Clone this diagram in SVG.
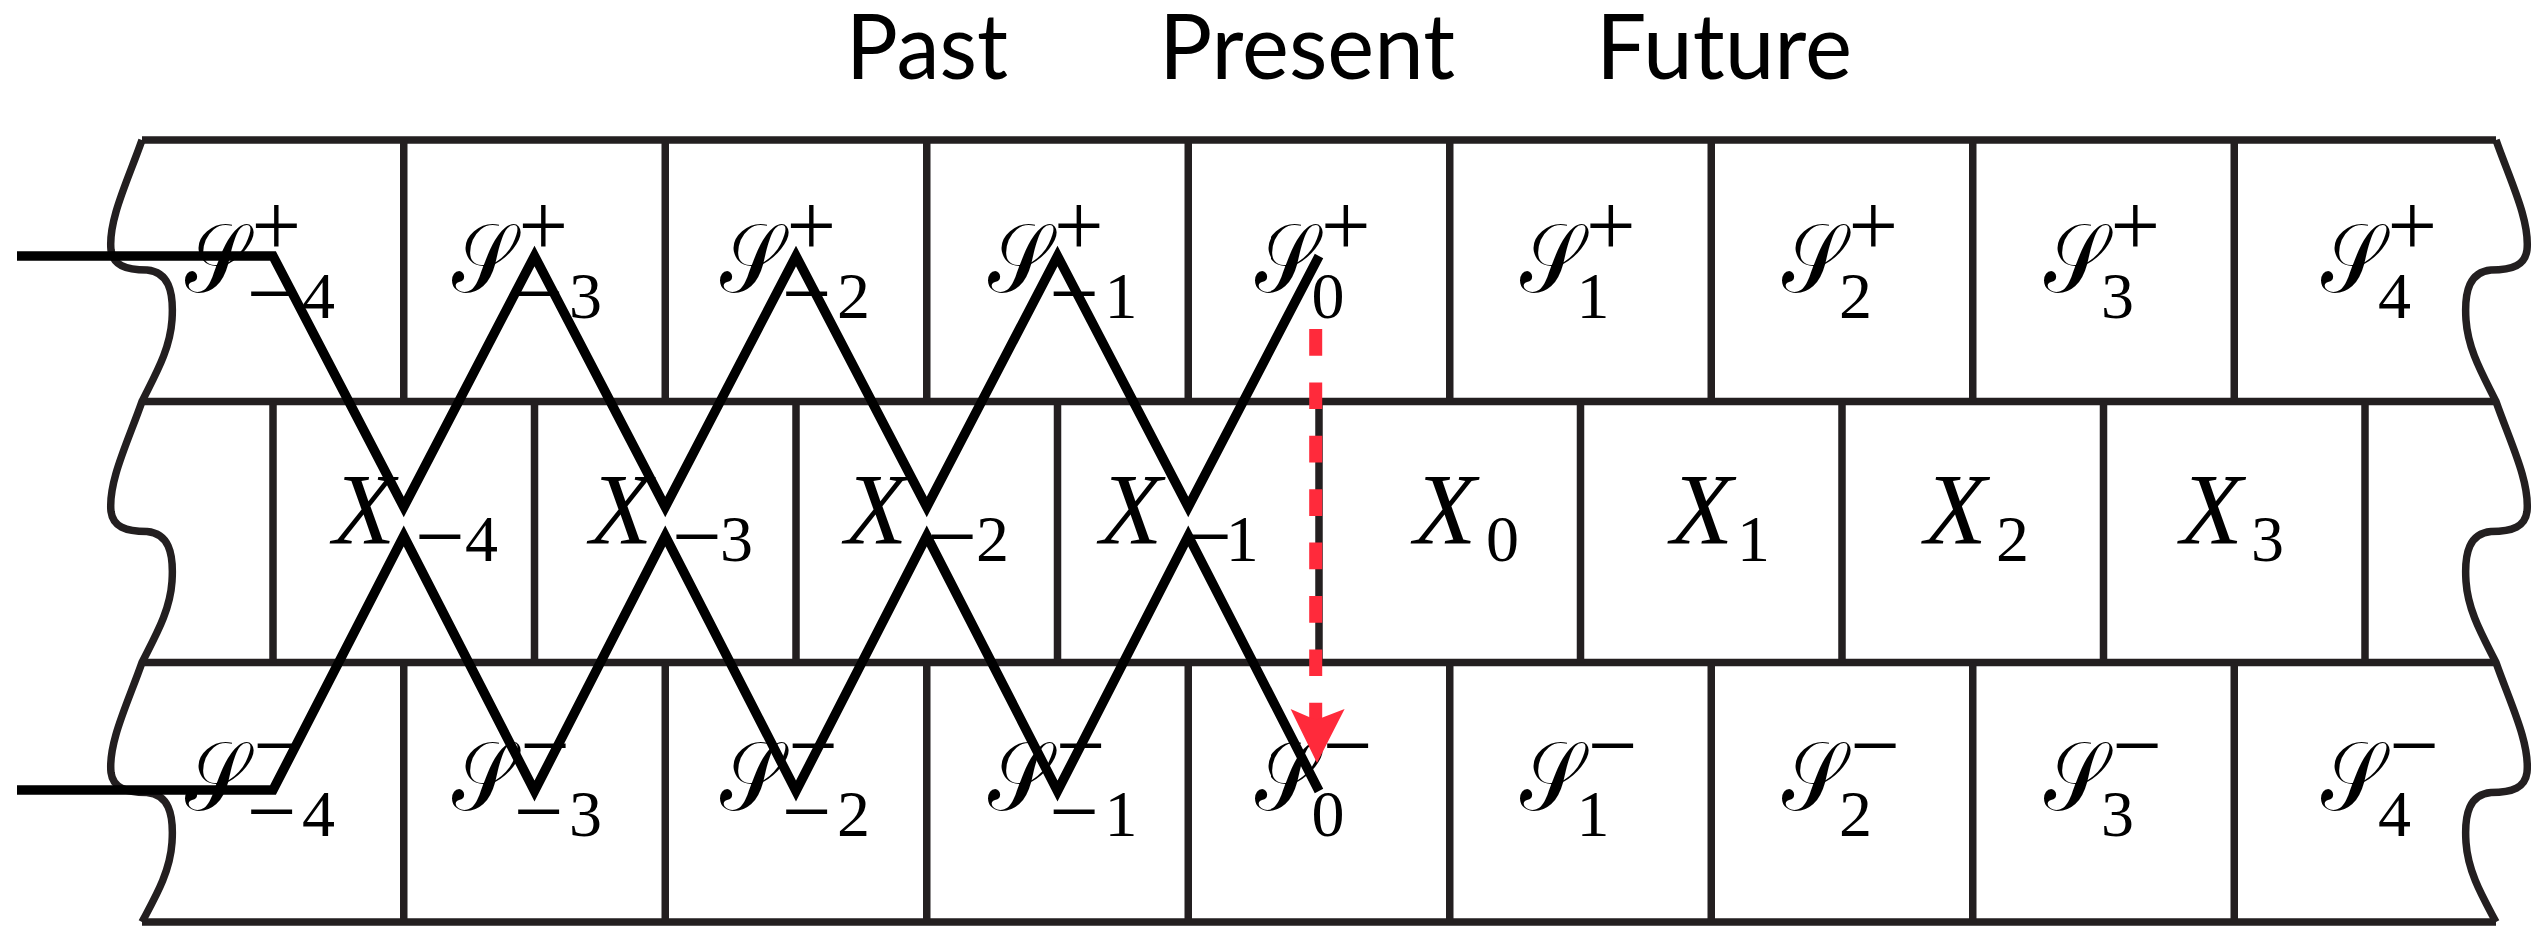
<svg xmlns="http://www.w3.org/2000/svg" width="2547" height="926" viewBox="0 0 2547 926">
<style>
.g{fill:none;stroke:#231f20;stroke-width:7.5}
.z{fill:none;stroke:#000;stroke-width:9.5;stroke-linejoin:miter;stroke-miterlimit:12}
.lab{font-family:"Liberation Serif","DejaVu Serif",serif;fill:#000}
.S{font-style:normal;font-size:98px}
.X{font-style:italic;font-size:102px}
.sg{font-style:normal;font-size:88px}
.d{font-style:normal;font-size:66px}
.t{font-family:Lato,"Open Sans",sans-serif;font-size:92px;fill:#000}
</style>
<rect width="2547" height="926" fill="#fff"/>
<g id="titles">
<text class="t" x="846" y="79" textLength="162" lengthAdjust="spacingAndGlyphs">Past</text>
<text class="t" x="1159" y="79" textLength="296" lengthAdjust="spacingAndGlyphs">Present</text>
<text class="t" x="1596" y="79" textLength="256" lengthAdjust="spacingAndGlyphs">Future</text>
</g>
<g id="grid">
<path class="g" d="M142,140H2496M142,401.5H2496M142,662.5H2496M142,922H2496"/>
<path class="g" d="M403.75,140V401.5M665.25,140V401.5M926.75,140V401.5M1188.25,140V401.5M1449.75,140V401.5M1711.25,140V401.5M1972.75,140V401.5M2234.25,140V401.5"/>
<path class="g" d="M273,401.5V662.5M534.5,401.5V662.5M796,401.5V662.5M1057.5,401.5V662.5M1319,401.5V662.5M1580.5,401.5V662.5M1842,401.5V662.5M2103.5,401.5V662.5M2365,401.5V662.5"/>
<path class="g" d="M403.75,662.5V922M665.25,662.5V922M926.75,662.5V922M1188.25,662.5V922M1449.75,662.5V922M1711.25,662.5V922M1972.75,662.5V922M2234.25,662.5V922"/>
<path class="g" d="M142,140C128,180 108,220 111,250C113,265 125,270 147,270C168,272 174,290 172,320C170,350 155,375 142,401.5C128,441.5 108,481.5 111,511.5C113,526.5 125,531.5 147,531.5C168,533.5 174,551.5 172,581.5C170,611.5 155,636.5 142,662.5C128,702.5 108,742.5 111,772.5C113,787.5 125,792.5 147,792.5C168,794.5 174,812.5 172,842.5C170,872.5 155,897.5 142,922"/>
<path class="g" d="M2496,140C2510,180 2530,220 2527,250C2525,265 2513,270 2491,270C2470,272 2464,290 2466,320C2468,350 2483,375 2496,401.5C2510,441.5 2530,481.5 2527,511.5C2525,526.5 2513,531.5 2491,531.5C2470,533.5 2464,551.5 2466,581.5C2468,611.5 2483,636.5 2496,662.5C2510,702.5 2530,742.5 2527,772.5C2525,787.5 2513,792.5 2491,792.5C2470,794.5 2464,812.5 2466,842.5C2468,872.5 2483,897.5 2496,922"/>
</g>
<g id="Sp-4" class="lab"><text><tspan class="S" x="185" y="292" textLength="62" lengthAdjust="spacingAndGlyphs">𝒮</tspan><tspan class="sg" x="251.4" y="255.3">+</tspan><tspan class="sg" x="246.9" y="322.8">−</tspan><tspan class="d" x="302" y="318">4</tspan></text></g>
<g id="Sp-3" class="lab"><text><tspan class="S" x="452" y="292" textLength="62" lengthAdjust="spacingAndGlyphs">𝒮</tspan><tspan class="sg" x="518.4" y="255.3">+</tspan><tspan class="sg" x="513.9" y="322.8">−</tspan><tspan class="d" x="569" y="318">3</tspan></text></g>
<g id="Sp-2" class="lab"><text><tspan class="S" x="720" y="292" textLength="62" lengthAdjust="spacingAndGlyphs">𝒮</tspan><tspan class="sg" x="786.4" y="255.3">+</tspan><tspan class="sg" x="781.9" y="322.8">−</tspan><tspan class="d" x="837" y="318">2</tspan></text></g>
<g id="Sp-1" class="lab"><text><tspan class="S" x="987.5" y="292" textLength="62" lengthAdjust="spacingAndGlyphs">𝒮</tspan><tspan class="sg" x="1053.9" y="255.3">+</tspan><tspan class="sg" x="1049.4" y="322.8">−</tspan><tspan class="d" x="1104.5" y="318">1</tspan></text></g>
<g id="Sp0" class="lab"><text><tspan class="S" x="1254.5" y="292" textLength="62" lengthAdjust="spacingAndGlyphs">𝒮</tspan><tspan class="sg" x="1320.9" y="255.3">+</tspan><tspan class="d" x="1311.5" y="318">0</tspan></text></g>
<g id="Sp1" class="lab"><text><tspan class="S" x="1519.6" y="292" textLength="62" lengthAdjust="spacingAndGlyphs">𝒮</tspan><tspan class="sg" x="1586" y="255.3">+</tspan><tspan class="d" x="1576.6" y="318">1</tspan></text></g>
<g id="Sp2" class="lab"><text><tspan class="S" x="1782" y="292" textLength="62" lengthAdjust="spacingAndGlyphs">𝒮</tspan><tspan class="sg" x="1848.4" y="255.3">+</tspan><tspan class="d" x="1839" y="318">2</tspan></text></g>
<g id="Sp3" class="lab"><text><tspan class="S" x="2044" y="292" textLength="62" lengthAdjust="spacingAndGlyphs">𝒮</tspan><tspan class="sg" x="2110.4" y="255.3">+</tspan><tspan class="d" x="2101" y="318">3</tspan></text></g>
<g id="Sp4" class="lab"><text><tspan class="S" x="2321" y="292" textLength="62" lengthAdjust="spacingAndGlyphs">𝒮</tspan><tspan class="sg" x="2387.4" y="255.3">+</tspan><tspan class="d" x="2378" y="318">4</tspan></text></g>
<g id="X-4" class="lab"><text><tspan class="X" x="333" y="544">X</tspan><tspan class="sg" x="415.2" y="566">−</tspan><tspan class="d" x="465" y="560.5">4</tspan></text></g>
<g id="X-3" class="lab"><text><tspan class="X" x="590" y="544">X</tspan><tspan class="sg" x="672.2" y="566">−</tspan><tspan class="d" x="720" y="560.5">3</tspan></text></g>
<g id="X-2" class="lab"><text><tspan class="X" x="845" y="544">X</tspan><tspan class="sg" x="927.4" y="566">−</tspan><tspan class="d" x="976" y="560.5">2</tspan></text></g>
<g id="X-1" class="lab"><text><tspan class="X" x="1100" y="544">X</tspan><tspan class="sg" x="1182.4" y="566">−</tspan><tspan class="d" x="1225.7" y="560.5">1</tspan></text></g>
<g id="X0" class="lab"><text><tspan class="X" x="1414" y="544">X</tspan><tspan class="d" x="1485.9" y="560.5">0</tspan></text></g>
<g id="X1" class="lab"><text><tspan class="X" x="1670.7" y="544">X</tspan><tspan class="d" x="1736.9" y="560.5">1</tspan></text></g>
<g id="X2" class="lab"><text><tspan class="X" x="1924.6" y="544">X</tspan><tspan class="d" x="1996.1" y="560.5">2</tspan></text></g>
<g id="X3" class="lab"><text><tspan class="X" x="2180.4" y="544">X</tspan><tspan class="d" x="2251.1" y="560.5">3</tspan></text></g>
<g id="Sm-4" class="lab"><text><tspan class="S" x="185" y="810" textLength="62" lengthAdjust="spacingAndGlyphs">𝒮</tspan><tspan class="sg" x="253.4" y="774.8">−</tspan><tspan class="sg" x="246.9" y="841">−</tspan><tspan class="d" x="302" y="836">4</tspan></text></g>
<g id="Sm-3" class="lab"><text><tspan class="S" x="452" y="810" textLength="62" lengthAdjust="spacingAndGlyphs">𝒮</tspan><tspan class="sg" x="520.4" y="774.8">−</tspan><tspan class="sg" x="513.9" y="841">−</tspan><tspan class="d" x="569" y="836">3</tspan></text></g>
<g id="Sm-2" class="lab"><text><tspan class="S" x="720" y="810" textLength="62" lengthAdjust="spacingAndGlyphs">𝒮</tspan><tspan class="sg" x="788.4" y="774.8">−</tspan><tspan class="sg" x="781.9" y="841">−</tspan><tspan class="d" x="837" y="836">2</tspan></text></g>
<g id="Sm-1" class="lab"><text><tspan class="S" x="987.5" y="810" textLength="62" lengthAdjust="spacingAndGlyphs">𝒮</tspan><tspan class="sg" x="1055.9" y="774.8">−</tspan><tspan class="sg" x="1049.4" y="841">−</tspan><tspan class="d" x="1104.5" y="836">1</tspan></text></g>
<g id="Sm0" class="lab"><text><tspan class="S" x="1254.5" y="810" textLength="62" lengthAdjust="spacingAndGlyphs">𝒮</tspan><tspan class="sg" x="1322.9" y="774.8">−</tspan><tspan class="d" x="1311.5" y="836">0</tspan></text></g>
<g id="Sm1" class="lab"><text><tspan class="S" x="1519.6" y="810" textLength="62" lengthAdjust="spacingAndGlyphs">𝒮</tspan><tspan class="sg" x="1588" y="774.8">−</tspan><tspan class="d" x="1576.6" y="836">1</tspan></text></g>
<g id="Sm2" class="lab"><text><tspan class="S" x="1782" y="810" textLength="62" lengthAdjust="spacingAndGlyphs">𝒮</tspan><tspan class="sg" x="1850.4" y="774.8">−</tspan><tspan class="d" x="1839" y="836">2</tspan></text></g>
<g id="Sm3" class="lab"><text><tspan class="S" x="2044" y="810" textLength="62" lengthAdjust="spacingAndGlyphs">𝒮</tspan><tspan class="sg" x="2112.4" y="774.8">−</tspan><tspan class="d" x="2101" y="836">3</tspan></text></g>
<g id="Sm4" class="lab"><text><tspan class="S" x="2321" y="810" textLength="62" lengthAdjust="spacingAndGlyphs">𝒮</tspan><tspan class="sg" x="2389.4" y="774.8">−</tspan><tspan class="d" x="2378" y="836">4</tspan></text></g>
<g id="connectors">
<path class="z" d="M17,256H273L403.75,507L534.5,256L665.25,507L796,256L926.75,507L1057.5,256L1188.25,507L1319,256"/>
<path class="z" d="M17,790H273L403.75,536L534.5,791L665.25,536L796,791L926.75,536L1057.5,791L1188.25,536L1319,791"/>
<line x1="1315.7" y1="329" x2="1315.7" y2="722" stroke="#ff2a3b" stroke-width="13" stroke-dasharray="26.7 26.7"/>
<polygon points="1290.6,709 1317,763 1344.6,709 1316,720" fill="#ff2a3b"/>
</g>
</svg>
